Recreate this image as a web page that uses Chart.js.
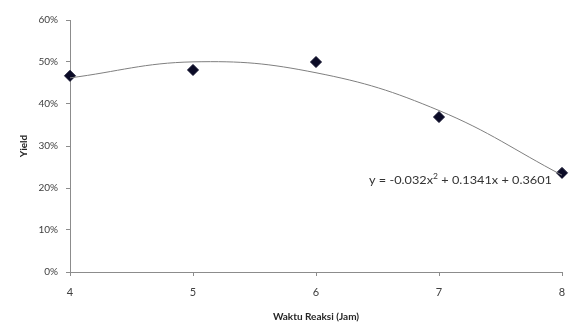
<!DOCTYPE html>
<html><head><meta charset="utf-8">
<script src="https://cdn.jsdelivr.net/npm/chart.js@4/dist/chart.umd.min.js"></script>
<style>html,body{margin:0;padding:0;background:#fff;}canvas{display:block;}</style>
</head><body>
<canvas id="c" width="571" height="327"></canvas>
<script>
const hours = [4, 5, 6, 7, 8];
const yieldValues = [0.467, 0.481, 0.500, 0.369, 0.236];
const trendValues = [0.4622, 0.5003, 0.4744, 0.3845, 0.2306];
const yTicks = [0, 0.1, 0.2, 0.3, 0.4, 0.5, 0.6];
const equationText = ['y = -0.032x', '2', ' + 0.1341x + 0.3601'];

const FONT = 'Lato, "Liberation Sans", sans-serif';
const TXT = '#404040';

const eqPlugin = {
  id: 'eq',
  afterDatasetsDraw(chart) {
    const ctx = chart.ctx;
    const right = chart.scales.x.getPixelForValue(8) - 10;
    const left = right - 183;
    const y = chart.scales.y.getPixelForValue(0.21);
    ctx.save();
    ctx.fillStyle = '#333';
    ctx.textBaseline = 'alphabetic';
    const big = '12px ' + FONT, small = '8px ' + FONT;
    ctx.font = big;
    const w0 = ctx.measureText(equationText[0]).width;
    const w2 = ctx.measureText(equationText[2]).width;
    ctx.font = small;
    const w1 = ctx.measureText(equationText[1]).width;
    const sx = 183 / (w0 + w1 + w2);
    ctx.translate(left, y);
    ctx.scale(sx, 1);
    ctx.font = big;
    ctx.fillText(equationText[0], 0, 0);
    ctx.font = small;
    ctx.fillText(equationText[1], w0, -5);
    ctx.font = big;
    ctx.fillText(equationText[2], w0 + w1, 0);
    ctx.restore();
  }
};

new Chart(document.getElementById('c'), {
  type: 'scatter',
  data: {
    datasets: [
      {
        label: 'Trend',
        data: hours.map((h, i) => ({x: h, y: trendValues[i]})),
        showLine: true,
        borderColor: '#7f7f7f',
        borderWidth: 1,
        pointRadius: 0,
        tension: 0.4,
        fill: false,
        clip: false
      },
      {
        label: 'Yield',
        data: hours.map((h, i) => ({x: h, y: yieldValues[i]})),
        pointStyle: 'rectRot',
        pointRadius: 5.5,
        backgroundColor: '#0b0b26',
        borderColor: '#0b0b26',
        showLine: false,
        clip: false
      }
    ]
  },
  options: {
    responsive: false,
    animation: false,
    devicePixelRatio: 1,
    layout: {padding: {top: 20, right: 9, left: 14, bottom: 0}},
    plugins: {legend: {display: false}, tooltip: {enabled: false}},
    scales: {
      x: {
        type: 'linear', min: 4, max: 8,
        afterFit(s) { s.height = 55; s.paddingRight = 0; s.paddingLeft = 0; },
        ticks: {stepSize: 1, color: TXT, font: {size: 11, family: FONT}, padding: 10},
        grid: {drawOnChartArea: false, drawTicks: true, tickLength: 4, color: '#8c8c8c'},
        border: {color: '#8c8c8c', width: 1},
        title: {display: true, text: 'Waktu Reaksi (Jam)', color: '#262626', font: {size: 10, weight: 'bold', family: FONT}, padding: {top: 8}}
      },
      y: {
        min: 0, max: 0.6,
        afterFit(s) { s.width = 56; },
        afterBuildTicks(s) { s.ticks = yTicks.map(v => ({value: v})); },
        ticks: {color: TXT, font: {size: 10, family: FONT}, padding: 8,
          callback: v => Math.round(v * 100) + '%'},
        grid: {drawOnChartArea: false, drawTicks: true, tickLength: 4, color: '#8c8c8c'},
        border: {color: '#8c8c8c', width: 1},
        title: {display: true, text: 'Yield', color: '#262626', font: {size: 10, weight: 'bold', family: FONT}, padding: {bottom: 4}}
      }
    }
  },
  plugins: [eqPlugin]
});
</script>
</body></html>
